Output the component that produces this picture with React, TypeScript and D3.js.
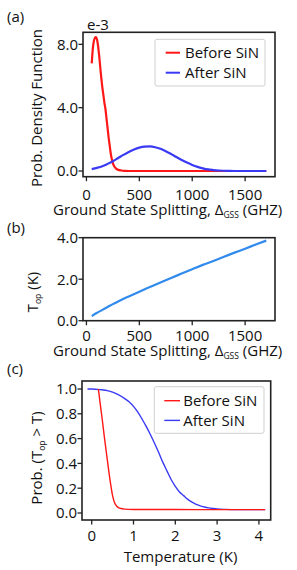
import React from "react";
import * as d3 from "d3";

// ---------- Data ----------
// Panel (a): probability density (e-3) vs ground-state splitting (GHz)
const beforeGss = [50, 60, 70, 80, 90, 100, 110, 120, 130, 140, 150, 160, 170, 180, 190, 200, 210, 220, 230, 240, 250, 260, 280, 300, 330, 360, 400, 600, 800, 1000, 1200, 1400, 1700];
const beforePdf = [6.8, 7.7, 8.2, 8.4, 8.45, 8.3, 7.9, 7.3, 6.6, 5.9, 5.3, 4.8, 4.3, 3.9, 3.3, 2.7, 2.1, 1.6, 1.1, 0.75, 0.5, 0.33, 0.15, 0.07, 0.03, 0.01, 0, 0, 0, 0, 0, 0, 0];
const afterGss = [50, 100, 150, 200, 250, 300, 350, 400, 450, 500, 550, 600, 650, 700, 750, 800, 850, 900, 950, 1000, 1050, 1100, 1150, 1200, 1250, 1300, 1350, 1400, 1500, 1600, 1700];
const afterPdf = [0.12, 0.2, 0.3, 0.45, 0.62, 0.82, 1.02, 1.2, 1.36, 1.48, 1.54, 1.55, 1.5, 1.4, 1.25, 1.07, 0.88, 0.7, 0.53, 0.38, 0.26, 0.17, 0.1, 0.06, 0.03, 0.015, 0.005, 0, 0, 0, 0];

// Panel (b): T_op (K) vs ground-state splitting (GHz)
const topGss = [50, 100, 150, 200, 250, 300, 400, 500, 600, 700, 800, 900, 1000, 1100, 1200, 1300, 1400, 1500, 1600, 1700];
const topK = [0.22, 0.38, 0.52, 0.66, 0.8, 0.93, 1.17, 1.4, 1.62, 1.84, 2.06, 2.27, 2.48, 2.69, 2.88, 3.08, 3.28, 3.47, 3.67, 3.86];

// Panel (c): Prob(T_op > T) vs temperature (K)
const beforeT = [0.16, 0.2, 0.25, 0.3, 0.35, 0.4, 0.45, 0.5, 0.55, 0.6, 0.65, 0.7, 0.8, 0.9, 1.0, 1.5, 2.0, 3.0, 4.15];
const beforeProb = [1.0, 0.89, 0.76, 0.62, 0.49, 0.36, 0.24, 0.14, 0.08, 0.055, 0.042, 0.036, 0.031, 0.029, 0.028, 0.028, 0.028, 0.027, 0.027];
const afterT = [-0.1, 0.0, 0.2, 0.4, 0.6, 0.8, 0.9, 1.0, 1.1, 1.2, 1.3, 1.4, 1.5, 1.6, 1.7, 1.8, 1.9, 2.0, 2.1, 2.2, 2.3, 2.4, 2.5, 2.6, 2.7, 2.8, 2.9, 3.0, 3.2, 3.5, 4.15];
const afterProb = [1.0, 1.0, 0.995, 0.985, 0.96, 0.92, 0.895, 0.86, 0.815, 0.76, 0.7, 0.635, 0.565, 0.49, 0.41, 0.34, 0.27, 0.215, 0.17, 0.14, 0.11, 0.088, 0.07, 0.058, 0.048, 0.041, 0.036, 0.032, 0.029, 0.027, 0.027];

const gssTicks = [0, 500, 1000, 1500];
const pdfTicks = [0, 4, 8];
const topTicks = [0, 2, 4];
const tempTicks = [0, 1, 2, 3, 4];
const probTicks = [0, 0.2, 0.4, 0.6, 0.8, 1.0];
const legendLabels = ["Before SiN", "After SiN"];

// ---------- Styles ----------
const FONT = "'Open Sans', 'DejaVu Sans', sans-serif";
const FS = 15;
const SUB = 8.5;
const RED = "#ff1616";
const BLUE = "#3a3af5";
const LIGHTBLUE = "#318bec";
const SPINE = "#222";

type Pt = [number, number];
const zip = (xs: number[], ys: number[]): Pt[] => xs.map((x, i) => [x, ys[i]]);

function Frame({ x0, x1, y0, y1 }: { x0: number; x1: number; y0: number; y1: number }) {
  return <rect x={x0} y={y0} width={x1 - x0} height={y1 - y0} fill="none" stroke={SPINE} strokeWidth={1.6} />;
}

function XTicks({ scale, ticks, y, labelY, fmt }: { scale: any; ticks: number[]; y: number; labelY: number; fmt: (v: number) => string }) {
  return (
    <g>
      {ticks.map((t) => (
        <g key={t}>
          <line x1={scale(t)} x2={scale(t)} y1={y} y2={y + 4.5} stroke={SPINE} strokeWidth={1.3} />
          <text x={scale(t)} y={labelY} textAnchor="middle" fontSize={FS} fontFamily={FONT} fill="#111">
            {fmt(t)}
          </text>
        </g>
      ))}
    </g>
  );
}

function YTicks({ scale, ticks, x, fmt }: { scale: any; ticks: number[]; x: number; fmt: (v: number) => string }) {
  return (
    <g>
      {ticks.map((t) => (
        <g key={t}>
          <line x1={x - 4.5} x2={x} y1={scale(t)} y2={scale(t)} stroke={SPINE} strokeWidth={1.3} />
          <text x={x - 5} y={scale(t)} dy="0.36em" textAnchor="end" fontSize={FS} fontFamily={FONT} fill="#111">
            {fmt(t)}
          </text>
        </g>
      ))}
    </g>
  );
}

function Legend({ x, y, w, h, rowYs, lineX0, lineX1, textX, colors, sw }: any) {
  return (
    <g>
      <rect x={x} y={y} width={w} height={h} fill="white" stroke="#cfcfcf" strokeWidth={1} rx={2} />
      {legendLabels.map((lab, i) => (
        <g key={lab}>
          <line x1={lineX0} x2={lineX1} y1={rowYs[i]} y2={rowYs[i]} stroke={colors[i]} strokeWidth={sw} />
          <text x={textX} y={rowYs[i]} dy="0.36em" fontSize={FS} fontFamily={FONT} fill="#111">
            {lab}
          </text>
        </g>
      ))}
    </g>
  );
}

function GssLabel({ x, y }: { x: number; y: number }) {
  return (
    <text x={x} y={y} fontSize={FS} fontFamily={FONT} fill="#111">
      Ground State Splitting,{"  "}Δ
      <tspan fontSize={SUB} dy={3}>GSS</tspan>
      <tspan dy={-3}> (GHZ)</tspan>
    </text>
  );
}

export default function App() {
  const W = 297;
  const H = 570;

  // Panel (a)
  const ax = d3.scaleLinear().domain([-32.5, 1782.5]).range([83, 275]);
  const ay = d3.scaleLinear().domain([-0.36, 8.76]).range([176.7, 32.3]);
  // Panel (b)
  const bx = d3.scaleLinear().domain([-32.5, 1782.5]).range([83, 275]);
  const by = d3.scaleLinear().domain([0, 4]).range([320.7, 237.7]);
  // Panel (c)
  const cx = d3.scaleLinear().domain([-0.232, 4.282]).range([82, 270.7]);
  const cy = d3.scaleLinear().domain([-0.0565, 1.0645]).range([520, 381]);

  const mk = (sx: any, sy: any) =>
    d3
      .line<Pt>()
      .x((d) => sx(d[0]))
      .y((d) => sy(d[1]))
      .curve(d3.curveMonotoneX);

  const la = mk(ax, ay);
  const lb = mk(bx, by);
  const lc = mk(cx, cy);

  const f1 = (v: number) => v.toFixed(1);
  const f0 = (v: number) => String(v);

  return (
    <svg width={W} height={H} viewBox={`0 0 ${W} ${H}`} style={{ position: "absolute", left: 0, top: 0, background: "white" }}>
      <rect x={0} y={0} width={W} height={H} fill="white" />

      {/* Panel (a) */}
      <text x={7} y={21.5} fontSize={FS} fontFamily={FONT} fill="#111">(a)</text>
      <text x={87} y={29.5} fontSize={FS} fontFamily={FONT} fill="#111">e-3</text>
      <path d={la(zip(beforeGss, beforePdf)) || ""} fill="none" stroke={RED} strokeWidth={2.2} />
      <path d={la(zip(afterGss, afterPdf)) || ""} fill="none" stroke={BLUE} strokeWidth={2.2} />
      <Frame x0={83} x1={275} y0={32.3} y1={176.7} />
      <XTicks scale={ax} ticks={gssTicks} y={176.7} labelY={199.5} fmt={f0} />
      <YTicks scale={ay} ticks={pdfTicks} x={83} fmt={f1} />
      <text transform={`translate(42,108) rotate(-90)`} textAnchor="middle" fontSize={FS} fontFamily={FONT} fill="#111">
        Prob. Density Function
      </text>
      <GssLabel x={53} y={214.5} />
      <Legend x={155} y={39.3} w={110} h={46.7} rowYs={[52.7, 72.7]} lineX0={165.7} lineX1={180} textX={185} colors={[RED, BLUE]} sw={2} />

      {/* Panel (b) */}
      <text x={7} y={233} fontSize={FS} fontFamily={FONT} fill="#111">(b)</text>
      <path d={lb(zip(topGss, topK)) || ""} fill="none" stroke={LIGHTBLUE} strokeWidth={2.2} />
      <Frame x0={83} x1={275} y0={237.7} y1={320.7} />
      <XTicks scale={bx} ticks={gssTicks} y={320.7} labelY={340.5} fmt={f0} />
      <YTicks scale={by} ticks={topTicks} x={83} fmt={f1} />
      <text transform={`translate(38,292) rotate(-90)`} textAnchor="middle" fontSize={FS} fontFamily={FONT} fill="#111">
        T<tspan fontSize={SUB} dy={3}>op</tspan>
        <tspan dy={-3}> (K)</tspan>
      </text>
      <GssLabel x={53} y={355.5} />

      {/* Panel (c) */}
      <text x={7} y={374} fontSize={FS} fontFamily={FONT} fill="#111">(c)</text>
      <path d={lc(zip(afterT, afterProb)) || ""} fill="none" stroke={BLUE} strokeWidth={1.4} />
      <path d={lc(zip(beforeT, beforeProb)) || ""} fill="none" stroke={RED} strokeWidth={1.4} />
      <Frame x0={82} x1={270.7} y0={381} y1={520} />
      <XTicks scale={cx} ticks={tempTicks} y={520} labelY={540.5} fmt={f0} />
      <YTicks scale={cy} ticks={probTicks} x={82} fmt={f1} />
      <text transform={`translate(42,458) rotate(-90)`} textAnchor="middle" fontSize={FS} fontFamily={FONT} fill="#111">
        Prob. (T<tspan fontSize={SUB} dy={3}>op</tspan>
        <tspan dy={-3}> &gt; T)</tspan>
      </text>
      <text x={180.5} y={561.5} textAnchor="middle" fontSize={FS} fontFamily={FONT} fill="#111">
        Temperature (K)
      </text>
      <Legend x={154.3} y={386.7} w={109.7} h={46.6} rowYs={[400.7, 420.4]} lineX0={164.3} lineX1={180} textX={183.3} colors={[RED, BLUE]} sw={1.4} />
    </svg>
  );
}
